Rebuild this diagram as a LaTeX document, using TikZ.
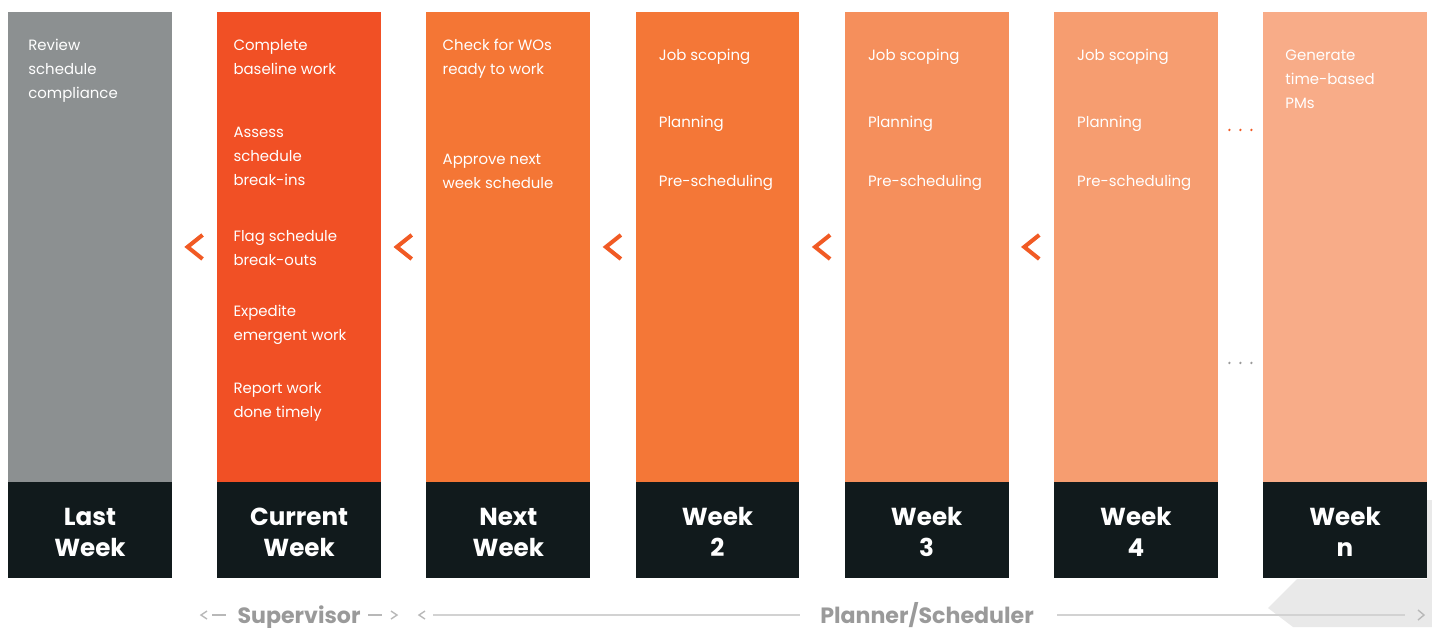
\documentclass[tikz,border=0pt]{standalone}
\usepackage{fontspec}
\setmainfont{Poppins}
\usetikzlibrary{positioning,calc}

\definecolor{lastgray}{HTML}{8C9091}
\definecolor{wkcur}{HTML}{F15025}
\definecolor{wknext}{HTML}{F47635}
\definecolor{wktwo}{HTML}{F47737}
\definecolor{wkthree}{HTML}{F58F5C}
\definecolor{wkfour}{HTML}{F69D70}
\definecolor{wkn}{HTML}{F8AC88}
\definecolor{footdark}{HTML}{111A1C}
\definecolor{chev}{HTML}{F15A24}
\definecolor{labgray}{HTML}{9A9A9A}
\definecolor{rulegray}{HTML}{D2D2D2}
\definecolor{wedge}{HTML}{E9E9E9}

\tikzset{
  body/.style={anchor=north west, minimum width=3.28cm, minimum height=9.4cm, inner sep=0pt, outer sep=0pt},
  foot/.style={fill=footdark, minimum width=3.28cm, minimum height=1.92cm, inner sep=0pt, outer sep=0pt},
  footlbl/.style={text=white, align=center, inner sep=0pt, font=\fontsize{14}{18}\selectfont\bfseries},
  item/.style={anchor=base west, inner sep=0pt, text=white, align=left, font=\fontsize{8.5}{13.6}\selectfont},
  chevron/.style={draw=chev, line width=2.3pt, line cap=butt, line join=miter},
  lbl/.style={anchor=base, inner sep=0pt, text=labgray, font=\fontsize{12.6}{14}\selectfont\bfseries},
  rule/.style={draw=rulegray, line width=1.2pt},
  smallchev/.style={draw=labgray!70, line width=0.8pt},
}

\begin{document}
\begin{tikzpicture}[x=0.02cm, y=-0.02cm]
\useasboundingbox (0,0) rectangle (1432,627);

% wedge behind the last column
\fill[wedge] (1268,608) -- (1297,579) -- (1432,579) -- (1432,627) -- (1293,627) -- cycle;
\fill[wedge] (1427,500) rectangle (1432,579);

% columns
\foreach \i/\col/\name in {1/lastgray/{Last\\Week}, 2/wkcur/{Current\\Week}, 3/wknext/{Next\\Week},
    4/wktwo/{Week\\2}, 5/wkthree/{Week\\3}, 6/wkfour/{Week\\4}, 7/wkn/{Week\\n}}{
  \node[body, fill=\col] (b\i) at ({8+209.17*(\i-1)},12) {};
  \node[foot, below=0pt of b\i] (f\i) {};
  \node[footlbl, anchor=base] (w\i) at ($(f\i.north)+(0,75)$) {\name};
}

% column texts (anchored at the last line)
\node[item] (t1a) at ($(b1.north west)+(20,86)$) {Review\\schedule\\compliance};

\node[item] (t2a) at ($(b2.north west)+(16,62)$) {Complete\\baseline work};
\node[item] (t2b) at ($(b2.north west)+(16,173)$) {Assess\\schedule\\break-ins};
\node[item] (t2c) at ($(b2.north west)+(16,253)$) {Flag schedule\\break-outs};
\node[item] (t2d) at ($(b2.north west)+(16,328)$) {Expedite\\emergent work};
\node[item] (t2e) at ($(b2.north west)+(16,405)$) {Report work\\done timely};

\node[item] (t3a) at ($(b3.north west)+(16,62)$) {Check for WOs\\ready to work};
\node[item] (t3b) at ($(b3.north west)+(16,176)$) {Approve next\\week schedule};

\foreach \i in {4,5,6}{
  \node[item] (t\i a) at ($(b\i.north west)+(23,48)$) {Job scoping};
  \node[item] (t\i b) at ($(b\i.north west)+(23,115)$) {Planning};
  \node[item] (t\i c) at ($(b\i.north west)+(23,174)$) {Pre-scheduling};
}

\node[item] (t7a) at ($(b7.north west)+(22,96)$) {Generate\\time-based\\PMs};

% chevrons between columns
\foreach \i [count=\j from 2] in {1,...,5}{
  \coordinate (g\i) at ($(b\i.east)!0.5!(b\j.west)$);
  \draw[chevron] ($(g\i)+(8,-12)$) -- ($(g\i)+(-7,0)$) -- ($(g\i)+(8,12)$);
}

% dots in the last gap
\coordinate (g6) at ($(b6.east)!0.5!(b7.west)$);
\foreach \dx in {-11,0,11}{
  \fill[chev] ($(g6)+(\dx,-117)$) circle (1.3);
  \fill[labgray] ($(g6)+(\dx,116)$) circle (1.3);
}

% roles along the bottom
\node[lbl] (sup) at (299,623) {Supervisor};
\node[lbl] (pla) at (927,623) {Planner/Scheduler};

\draw[smallchev] (207,611) -- (201,615) -- (207,619);
\draw[smallchev] (212,615) -- (226,615);
\draw[smallchev] (368,615) -- (382,615);
\draw[smallchev] (391,611) -- (397,615) -- (391,619);

\draw[smallchev] (425,611) -- (419,615) -- (425,619);
\draw[rule] (433,615) -- (800,615);
\draw[rule] (1057,615) -- (1405,615);
\draw[smallchev] (1418,610) -- (1424,615) -- (1418,620);
\end{tikzpicture}
\end{document}
